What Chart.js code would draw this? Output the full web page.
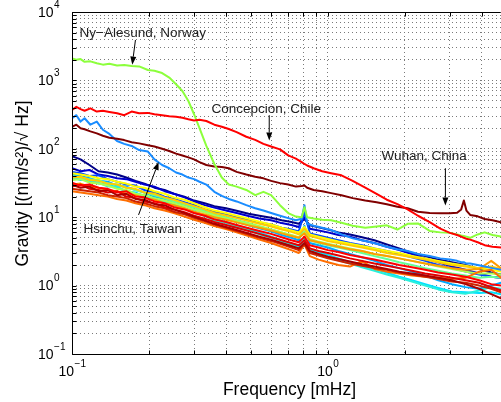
<!DOCTYPE html>
<html>
<head>
<meta charset="utf-8">
<script src="https://cdn.jsdelivr.net/npm/chart.js@4.4.0/dist/chart.umd.min.js"></script>
<style>
  html, body { margin: 0; padding: 0; background: #fff; overflow: hidden; }
  canvas { display: block; }
</style>
</head>
<body>
<canvas id="psd" width="501" height="402"></canvas>
<script>
// frequencies (mHz) for the four labelled stations
var freqMain = [0.1, 0.104, 0.108, 0.112, 0.118, 0.125, 0.132, 0.14, 0.15, 0.16,
  0.171, 0.183, 0.198, 0.21, 0.225, 0.24, 0.255, 0.27, 0.285, 0.3,
  0.315, 0.335, 0.36, 0.385, 0.41, 0.44, 0.48, 0.52, 0.56, 0.6,
  0.65, 0.7, 0.75, 0.79, 0.81, 0.83, 0.88, 0.95, 1.03, 1.13,
  1.25, 1.4, 1.55, 1.7, 1.87, 2.05, 2.25, 2.5, 2.75, 3.0,
  3.2, 3.32, 3.4, 3.48, 3.6, 3.85, 4.1, 4.4, 4.75];

var nyAlesund = [2100, 2000, 2050, 1870, 1900, 1780, 1700, 1750, 1650, 1680,
  1620, 1600, 1420, 1380, 1280, 1100, 880, 700, 500, 320,
  200, 110, 60, 38, 30, 28, 25, 21, 23.5, 21,
  15, 11.5, 10.2, 10, 14, 10, 9.6, 9.2, 9.0, 8.3,
  7.5, 7.0, 7.3, 7.6, 6.6, 8.0, 8.1, 6.3, 6.0, 5.9,
  5.6, 5.4, 5.3, 5.2, 5.0, 5.6, 6.0, 5.5, 5.2];

var concepcion = [370, 410, 380, 360, 390, 350, 360, 345, 330, 310,
  350, 330, 335, 320, 310, 300, 295, 285, 270, 260,
  265, 255, 225, 210, 195, 175, 150, 135, 118, 108,
  98, 80, 72, 64, 60, 57, 52, 47, 44, 41,
  34, 27, 22, 18, 15.5, 13, 10.5, 8.5, 6.8, 5.9,
  5.5, 5.2, 5.0, 4.85, 4.7, 4.3, 3.9, 3.7, 3.6];

var wuhan = [210, 225, 200, 193, 180, 168, 155, 145, 140, 134,
  125, 120, 113, 108, 100, 93, 85, 80, 75, 70,
  64, 58, 55, 54, 52, 46, 42, 39, 37, 34,
  31.5, 30, 28, 28.5, 29, 27, 25, 24, 22.5, 21,
  19, 17.5, 16.5, 15.5, 14.2, 13.5, 12, 11.5, 11.4, 11.4,
  11.6, 13, 17.5, 12.5, 10.8, 10.3, 9.4, 9.0, 8.4];

var hsinchu = [280, 310, 250, 280, 225, 250, 190, 165, 130, 118,
  110, 96, 91, 70, 58, 52, 45, 42, 38, 36,
  33, 30, 23.5, 20.5, 18.5, 17, 15, 13.5, 12.5, 11.5,
  10.5, 9.7, 9.0, 9.5, 15, 8.0, 7.5, 7.0, 6.5, 5.6,
  4.9, 4.5, 4.1, 3.7, 3.4, 3.2, 2.9, 2.7, 2.5, 2.4,
  2.3, 2.2, 2.2, 2.1, 2.1, 2.0, 1.9, 1.8, 1.7];

// frequencies (mHz) for the other stations
var freqBundle = [0.1, 0.108, 0.117, 0.127, 0.138, 0.15, 0.163, 0.177, 0.192, 0.21,
  0.23, 0.25, 0.275, 0.3, 0.33, 0.36, 0.4, 0.44, 0.49, 0.54,
  0.6, 0.66, 0.72, 0.77, 0.81, 0.85, 0.92, 1.0, 1.1, 1.22,
  1.36, 1.52, 1.7, 1.9, 2.13, 2.4, 2.7, 3.05, 3.45, 3.9,
  4.35, 4.75];

var st01 = [78, 70, 58, 47, 45, 42, 38, 34, 31, 27, 25, 22, 20, 17.5, 16, 14.5, 13.5, 12.4, 11.2, 10.5,
  9.8, 9.0, 8.5, 8.0, 9.5, 7.6, 7.1, 6.6, 6.0, 5.6, 5.1, 4.6, 4.0, 3.5, 3.0, 2.7, 2.4, 2.2, 2.0, 1.75, 1.55, 1.45];
var st02 = [52, 47, 49, 42, 40, 37, 36, 33, 30, 28, 24, 22, 19.5, 17, 15, 13.8, 12.5, 11.5, 10.4, 9.6,
  9.0, 8.2, 7.7, 7.2, 10, 6.8, 6.4, 6.0, 5.5, 5.2, 4.6, 4.2, 3.7, 3.3, 2.9, 2.5, 2.2, 1.9, 1.7, 1.5, 1.35, 1.3];
var st03 = [46, 44, 40, 41, 36, 33, 30, 29, 25, 23, 20, 18.5, 16.5, 15, 13, 12, 11, 10, 9.2, 8.4,
  7.8, 7.0, 6.6, 6.2, 12, 5.8, 5.4, 5.0, 4.6, 4.2, 3.9, 3.5, 3.2, 2.9, 2.6, 2.3, 2.0, 1.8, 1.6, 1.45, 1.35, 1.3];
var st04 = [42, 40, 37, 34, 33, 29, 28, 25, 23, 20, 18.5, 16.5, 15, 13, 12, 10.5, 9.5, 8.6, 7.6, 6.9,
  6.2, 5.5, 5.0, 4.6, 7.5, 4.2, 3.9, 3.6, 3.2, 2.9, 2.6, 2.3, 2.0, 1.8, 1.6, 1.4, 1.2, 1.05, 0.95, 0.9, 1.0, 1.1];
var st05 = [38, 35, 36, 31, 30, 27, 24, 23, 20, 19, 16.5, 15.5, 13.5, 12, 10.5, 9.5, 8.5, 7.6, 6.6, 6.0,
  5.2, 4.6, 4.0, 3.7, 5.0, 3.4, 3.1, 2.8, 2.5, 2.2, 1.95, 1.75, 1.55, 1.35, 1.2, 1.05, 0.92, 0.82, 0.8, 0.78, 0.8, 0.75];
var st06 = [36, 37, 33, 32, 28, 28, 24, 22, 21, 18, 17, 14.5, 13.5, 11.5, 10.5, 9, 8.2, 7.3, 6.5, 5.6,
  5.0, 4.4, 3.9, 3.5, 4.8, 3.2, 2.9, 2.6, 2.35, 2.1, 1.85, 1.65, 1.45, 1.3, 1.15, 1.0, 0.88, 0.8, 0.76, 0.85, 0.95, 0.9];
var st07 = [40, 38, 36, 35, 31, 30, 27, 25, 23, 21, 19, 17, 15.5, 14, 12.2, 11, 10, 9, 8.2, 7.4,
  6.6, 6.0, 5.4, 5.0, 6.2, 4.6, 4.2, 3.9, 3.6, 3.3, 3.0, 2.7, 2.45, 2.2, 2.0, 1.8, 1.65, 1.5, 1.4, 1.3, 1.35, 1.3];
var st08 = [35, 36, 32, 31, 29, 26, 25, 22, 21, 19, 17.5, 16, 14.5, 13, 11.8, 10.5, 9.6, 8.8, 8.0, 7.3,
  6.6, 6.0, 5.5, 5.1, 6.0, 4.8, 4.4, 4.1, 3.8, 3.5, 3.2, 2.9, 2.7, 2.5, 2.3, 2.1, 1.9, 1.75, 1.6, 1.5, 1.5, 1.45];
var st09 = [44, 42, 40, 37, 36, 33, 31, 28, 27, 24, 22, 19.5, 18, 16, 14, 12.5, 11.5, 10.5, 9.5, 8.6,
  7.8, 7.0, 6.4, 6.0, 7.2, 5.6, 5.2, 4.8, 4.4, 4.1, 3.8, 3.5, 3.2, 3.0, 2.7, 2.5, 2.3, 2.1, 1.95, 1.8, 1.7, 1.6];
var st10 = [38, 39, 35, 34, 31, 30, 27, 26, 23, 22, 19.5, 18, 16, 14.5, 13, 11.5, 10.6, 9.7, 8.8, 8.0,
  7.3, 6.6, 6.1, 5.6, 6.8, 5.3, 4.9, 4.5, 4.2, 3.9, 3.6, 3.3, 3.0, 2.8, 2.6, 2.4, 2.2, 2.0, 1.9, 1.8, 1.9, 1.75];
var st11 = [30, 31, 28, 27, 25, 24, 22, 21, 19, 18, 16, 15, 13.5, 12, 11, 10, 9.2, 8.4, 7.6, 7.0,
  6.4, 5.8, 5.3, 5.0, 5.8, 4.6, 4.3, 4.0, 3.7, 3.4, 3.2, 2.9, 2.7, 2.5, 2.3, 2.1, 1.95, 1.8, 1.7, 1.75, 2.3, 1.8];
var st12 = [24, 23, 22, 21, 20, 18.5, 17.5, 16, 15, 13.5, 12.5, 11.5, 10.2, 9.2, 8.3, 7.4, 6.7, 6.0, 5.3, 4.7,
  4.2, 3.7, 3.3, 3.0, 4.0, 2.7, 2.4, 2.2, 2.0, 1.9, 2.3, 1.75, 1.6, 1.5, 1.4, 1.35, 1.3, 1.25, 1.3, 1.6, 1.7, 1.3];
var st13 = [32, 29, 30, 27, 26, 23, 24, 20, 19.5, 17, 16, 14, 13, 11.5, 10.5, 9.3, 8.5, 7.7, 6.9, 6.3,
  5.7, 5.1, 4.6, 4.3, 5.2, 3.9, 3.6, 3.3, 3.1, 2.8, 2.6, 2.4, 2.2, 2.0, 1.85, 1.7, 1.55, 1.45, 1.35, 1.2, 1.05, 1.0];
var st14 = [28, 30, 26, 25, 23, 24, 20, 19, 17, 16, 14, 13, 11.8, 10.5, 9.5, 8.5, 7.7, 7.0, 6.3, 5.7,
  5.1, 4.6, 4.2, 3.9, 4.6, 3.5, 3.2, 3.0, 2.75, 2.5, 2.3, 2.1, 1.95, 1.8, 1.65, 1.5, 1.4, 1.3, 1.2, 1.1, 0.95, 0.85];
var st15 = [30, 27, 28, 24, 25, 21, 22, 18.5, 18, 15.5, 15, 13, 11.5, 10.2, 9, 8, 7.2, 6.5, 5.8, 5.2,
  4.7, 4.2, 3.8, 3.5, 4.2, 3.2, 2.9, 2.65, 2.45, 2.25, 2.05, 1.9, 1.75, 1.6, 1.5, 1.4, 1.3, 1.2, 1.05, 0.9, 0.75, 0.65];
var st16 = [26, 25, 24, 23, 21, 20, 19, 17, 16, 14.5, 13.5, 12, 11, 9.8, 8.8, 7.8, 7.0, 6.3, 5.6, 5.0,
  4.5, 4.0, 3.6, 3.3, 4.0, 3.0, 2.75, 2.5, 2.3, 2.1, 1.95, 1.8, 1.7, 1.55, 1.45, 1.35, 1.25, 1.15, 1.1, 1.0, 0.9, 0.8];

var bundleSeries = [st13, st15, st14, st16, st12, st11, st10, st09, st08, st07, st06, st05, st04, st03, st02, st01];
var bundleColors = ['rgb(255,0,0)', 'rgb(170,0,0)', 'rgb(225,0,0)', 'rgb(205,35,0)', 'rgb(255,110,0)',
  'rgb(255,155,0)', 'rgb(255,205,0)', 'rgb(255,255,0)', 'rgb(170,255,80)', 'rgb(100,255,150)',
  'rgb(40,240,220)', 'rgb(0,225,255)', 'rgb(0,170,255)', 'rgb(0,70,255)', 'rgb(0,0,205)', 'rgb(0,0,135)'];

var xTicks = [0.1, 0.2, 0.3, 0.4, 0.5, 0.6, 0.7, 0.8, 0.9, 1, 2, 3, 4];
var yTicks = [0.1, 0.2, 0.3, 0.4, 0.5, 0.6, 0.7, 0.8, 0.9, 1, 2, 3, 4, 5, 6, 7, 8, 9,
  10, 20, 30, 40, 50, 60, 70, 80, 90, 100, 200, 300, 400, 500, 600, 700, 800, 900,
  1000, 2000, 3000, 4000, 5000, 6000, 7000, 8000, 9000, 10000];
var xLabelExp = [-1, 0];
var yLabelExp = [-1, 0, 1, 2, 3, 4];

// station notes: text anchor and arrow, in (mHz, value) coordinates
var notes = [
  { text: 'Ny\u2212Alesund, Norway', at: [0.107, 4300], from: [0.177, 3900], to: [0.172, 1700] },
  { text: 'Concepcion, Chile', at: [0.351, 334], from: [0.59, 310], to: [0.59, 132] },
  { text: 'Wuhan, China', at: [1.62, 68], from: [2.88, 52], to: [2.88, 14.8] },
  { text: 'Hsinchu, Taiwan', at: [0.111, 5.9], from: [0.182, 10.8], to: [0.218, 64] }
];

var fontFam = '"Liberation Sans", Arial, Helvetica, sans-serif';

function series(freqs, vals) {
  return vals.map(function (v, i) { return { x: freqs[i], y: v }; });
}

function lineSet(data, color) {
  return {
    data: data, borderColor: color, borderWidth: 2, pointRadius: 0,
    fill: false, tension: 0, borderJoinStyle: 'round', borderCapStyle: 'round'
  };
}

var datasets = [
  lineSet(series(freqMain, concepcion), 'rgb(255,0,0)'),
  lineSet(series(freqMain, nyAlesund), 'rgb(140,255,60)'),
  lineSet(series(freqMain, wuhan), 'rgb(128,0,0)'),
  lineSet(series(freqMain, hsinchu), 'rgb(25,140,255)')
];
bundleSeries.forEach(function (vals, i) {
  datasets.push(lineSet(series(freqBundle, vals), bundleColors[i]));
});

function drawPower(ctx, x, y, exp, center) {
  var base = '10';
  var ex = exp < 0 ? '\u2212' + Math.abs(exp) : String(exp);
  ctx.font = '14px ' + fontFam;
  var wb = ctx.measureText(base).width;
  ctx.font = '10px ' + fontFam;
  var we = ctx.measureText(ex).width;
  var x0 = center ? x - (wb + we) / 2 : x;
  ctx.textAlign = 'left';
  ctx.textBaseline = 'middle';
  ctx.font = '14px ' + fontFam;
  ctx.fillText(base, x0, y);
  ctx.font = '10px ' + fontFam;
  ctx.fillText(ex, x0 + wb + 0.5, y - 8);
}

function drawArrow(ctx, x1, y1, x2, y2) {
  var ang = Math.atan2(y2 - y1, x2 - x1);
  var len = 8, half = 3;
  ctx.beginPath();
  ctx.moveTo(x1, y1);
  ctx.lineTo(x2 - Math.cos(ang) * len, y2 - Math.sin(ang) * len);
  ctx.stroke();
  ctx.beginPath();
  ctx.moveTo(x2, y2);
  ctx.lineTo(x2 - Math.cos(ang) * len - Math.sin(ang) * half, y2 - Math.sin(ang) * len + Math.cos(ang) * half);
  ctx.lineTo(x2 - Math.cos(ang) * len + Math.sin(ang) * half, y2 - Math.sin(ang) * len - Math.cos(ang) * half);
  ctx.closePath();
  ctx.fill();
}

var matlabAxes = {
  id: 'matlabAxes',
  afterDraw: function (chart) {
    var ctx = chart.ctx, a = chart.chartArea;
    var sx = chart.scales.x, sy = chart.scales.y;
    var L = Math.round(a.left) + 0.5, B = Math.round(a.bottom) + 0.5;
    var T = Math.round(a.top) + 0.5, R = Math.round(a.right) - 0.5;
    ctx.save();
    ctx.strokeStyle = '#000';
    ctx.fillStyle = '#000';
    ctx.lineWidth = 1;
    ctx.beginPath();
    ctx.moveTo(R, T); ctx.lineTo(L, T); ctx.lineTo(L, B); ctx.lineTo(R, B);
    xTicks.forEach(function (v) {
      var px = Math.round(sx.getPixelForValue(v)) + 0.5;
      ctx.moveTo(px, B); ctx.lineTo(px, B - 4);
      ctx.moveTo(px, T); ctx.lineTo(px, T + 4);
    });
    yTicks.forEach(function (v) {
      var py = Math.round(sy.getPixelForValue(v)) + 0.5;
      ctx.moveTo(L, py); ctx.lineTo(L + 4, py);
    });
    ctx.stroke();

    yLabelExp.forEach(function (e) {
      drawPower(ctx, 38, sy.getPixelForValue(Math.pow(10, e)) + 1, e, false);
    });
    xLabelExp.forEach(function (e) {
      drawPower(ctx, sx.getPixelForValue(Math.pow(10, e)), a.bottom + 18, e, true);
    });

    ctx.font = '17.5px ' + fontFam;
    ctx.textAlign = 'center';
    ctx.textBaseline = 'alphabetic';
    ctx.fillText('Frequency [mHz]', 289.5, 395);
    ctx.save();
    ctx.translate(28, (a.top + a.bottom) / 2 + 0.5);
    ctx.rotate(-Math.PI / 2);
    ctx.fillText('Gravity [(nm/s\u00b2)/\u221a Hz]', 0, 0);
    ctx.restore();

    ctx.font = '13.5px ' + fontFam;
    ctx.textAlign = 'left';
    ctx.textBaseline = 'alphabetic';
    notes.forEach(function (n) {
      ctx.fillStyle = '#222';
      ctx.fillText(n.text, sx.getPixelForValue(n.at[0]), sy.getPixelForValue(n.at[1]));
      ctx.fillStyle = '#000';
      drawArrow(ctx, sx.getPixelForValue(n.from[0]), sy.getPixelForValue(n.from[1]),
        sx.getPixelForValue(n.to[0]), sy.getPixelForValue(n.to[1]));
    });
    ctx.restore();
  }
};

function gridScale(min, max, ticks) {
  return {
    type: 'logarithmic', min: min, max: max,
    afterBuildTicks: function (scale) {
      scale.ticks = ticks.map(function (v) { return { value: v }; });
    },
    ticks: { display: false },
    grid: { color: '#7a7a7a', lineWidth: 1, drawTicks: false },
    border: { display: false, dash: [1, 3] }
  };
}

new Chart(document.getElementById('psd'), {
  type: 'line',
  data: { datasets: datasets },
  options: {
    responsive: false,
    animation: false,
    devicePixelRatio: 1,
    events: [],
    layout: { padding: { left: 72, right: 0, top: 12, bottom: 48 } },
    plugins: { legend: { display: false }, tooltip: { enabled: false } },
    scales: {
      x: gridScale(0.1, 4.75, xTicks),
      y: gridScale(0.1, 10000, yTicks)
    }
  },
  plugins: [matlabAxes]
});
</script>
</body>
</html>
